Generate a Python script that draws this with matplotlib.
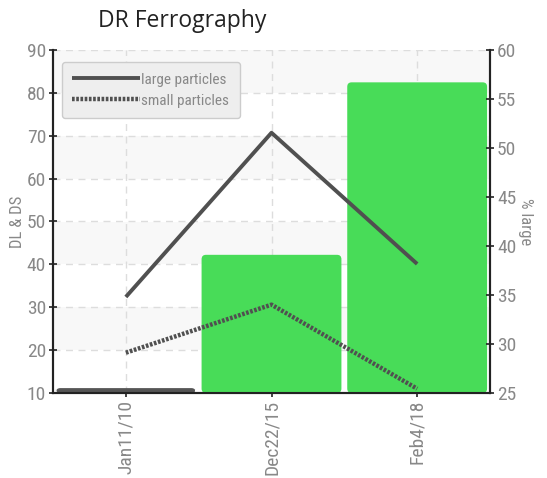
import matplotlib
matplotlib.use('Agg')
from matplotlib import pyplot as plt
from matplotlib.patches import FancyBboxPatch

# data
dates = ['Jan11/10', 'Dec22/15', 'Feb4/18']
large_particles = [32.4, 70.7, 40.1]
small_particles = [19.4, 30.6, 11.0]
pct_large = [25.5, 39.1, 56.7]
bar_colors = ['#555555', '#48dc58', '#48dc58']

GREY = '#888888'
LINE = '#505050'
NARROW = ['Roboto Condensed', 'DejaVu Sans']


def main():
    fig = plt.figure(figsize=(5.47, 4.78), dpi=100)
    ax = fig.add_axes([53 / 547, 1 - 393 / 478, 437 / 547, 343 / 478])
    ax2 = ax.twinx()

    x = list(range(len(dates)))

    # left axis: bands + grid
    ax.set_ylim(10, 90)
    ax.set_xlim(-0.5, 2.5)
    ax.set_yticks(range(10, 91, 10))
    for lo in range(20, 90, 20):
        ax.axhspan(lo, lo + 10, color='#f8f8f8', zorder=0, lw=0)
    ax.grid(True, color='#dddddd', linestyle=(0, (5, 4)), linewidth=1)
    ax.set_axisbelow(True)
    ax.set_xticks(x)
    ax.set_xticklabels(dates, rotation=90, color=GREY, fontsize=14, family=NARROW)
    for lbl in ax.get_yticklabels():
        lbl.set_color(GREY)
        lbl.set_fontsize(14)
        lbl.set_family(NARROW)
    ax.set_ylabel('DL & DS', color=GREY, fontsize=12, family=NARROW, labelpad=1)
    ax.tick_params(direction='inout', length=6, width=1.2, color='#222222', pad=2)

    # right axis: bars
    ax2.set_ylim(25, 60)
    ax2.set_yticks(range(25, 61, 5))
    bars = ax2.bar(x, [v - 25 for v in pct_large], bottom=25, width=0.96,
                   color=bar_colors, zorder=1)
    for b, c in zip(bars, bar_colors):
        b.set_visible(False)
        r = FancyBboxPatch((b.get_x(), b.get_y()), b.get_width(), b.get_height(),
                           boxstyle='round,pad=0,rounding_size=0.03',
                           mutation_aspect=14.9, facecolor=c, edgecolor='none',
                           zorder=1)
        ax2.add_patch(r)
    for lbl in ax2.get_yticklabels():
        lbl.set_color(GREY)
        lbl.set_fontsize(14)
        lbl.set_family(NARROW)
    ax2.set_ylabel('% large', color=GREY, fontsize=12, family=NARROW,
                   rotation=270, labelpad=12)
    ax2.tick_params(direction='inout', length=6, width=1.2, color='#222222', pad=2)

    # lines on the left scale, drawn above the bars
    ax2.plot(x, large_particles, color=LINE, lw=2.8, transform=ax.transData,
             label='large particles', zorder=3, solid_capstyle='butt')
    ax2.plot(x, small_particles, color=LINE, lw=3.2, linestyle=(0, (0.6, 0.35)),
             transform=ax.transData, label='small particles', zorder=3)

    for a in (ax, ax2):
        a.spines['top'].set_visible(False)
        for s in ('left', 'right', 'bottom'):
            a.spines[s].set_color('#222222')
            a.spines[s].set_linewidth(1.5)

    leg = ax2.legend(loc='upper left', bbox_to_anchor=(0.02, 0.965), handlelength=4.4,
                     handletextpad=0.1, borderpad=0.7, labelspacing=0.45,
                     fancybox=True, framealpha=1, borderaxespad=0,
                     prop={'family': NARROW, 'size': 11})
    leg.get_frame().set_facecolor('#eeeeee')
    leg.get_frame().set_edgecolor('#cccccc')
    for t in leg.get_texts():
        t.set_color(GREY)

    fig.text(98 / 547, 1 - 21 / 478, 'DR Ferrography', fontsize=16.5,
             family=['Open Sans', 'DejaVu Sans'], color='#222222', va='center', ha='left')

    fig.savefig('out.png', dpi=100)


if __name__ == '__main__':
    main()
